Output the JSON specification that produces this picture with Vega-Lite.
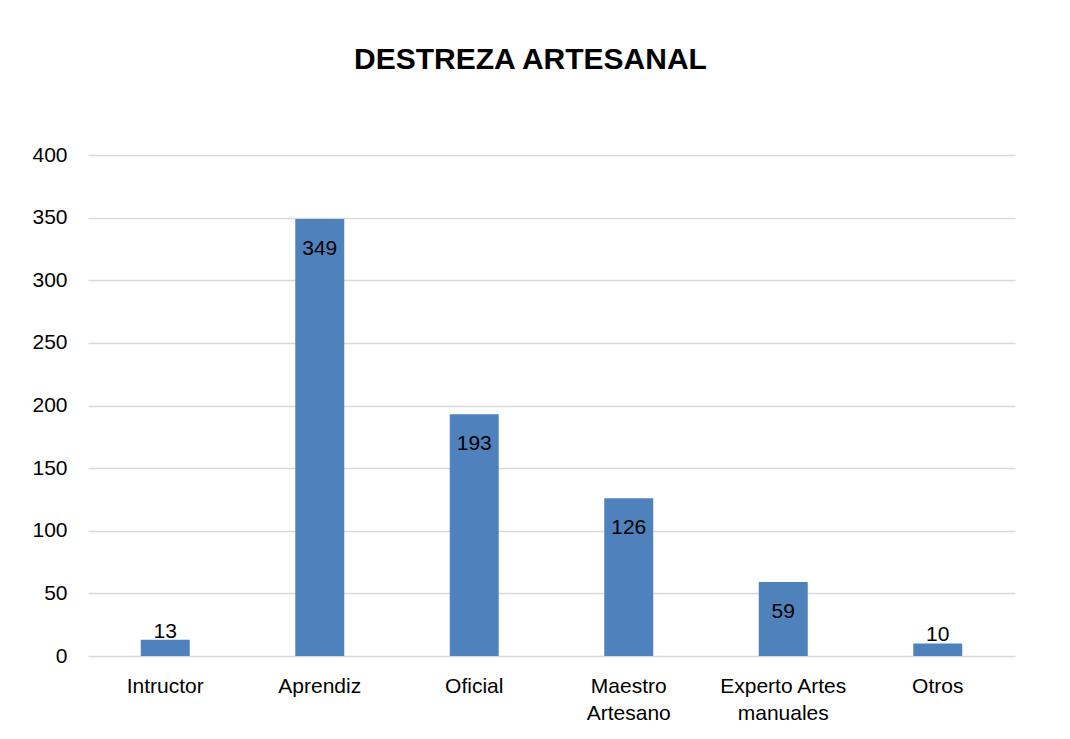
{
  "$schema": "https://vega.github.io/schema/vega-lite/v6.json",
  "autosize": {"type": "none"},
  "width": 927,
  "height": 501,
  "padding": {"left": 88, "top": 155, "right": 55, "bottom": 83},
  "background": "white",
  "config": {
    "view": {"stroke": null},
    "font": "Liberation Sans"
  },
  "title": {
    "text": "DESTREZA ARTESANAL",
    "font": "Liberation Sans",
    "fontSize": 30,
    "fontWeight": "bold",
    "color": "#000000",
    "anchor": "middle",
    "dx": -21,
    "baseline": "alphabetic",
    "offset": 45
  },
  "data": {
    "values": [
      {"categoria": "Intructor", "valor": 13},
      {"categoria": "Aprendiz", "valor": 349},
      {"categoria": "Oficial", "valor": 193},
      {"categoria": "Maestro Artesano", "valor": 126},
      {"categoria": "Experto Artes manuales", "valor": 59},
      {"categoria": "Otros", "valor": 10}
    ]
  },
  "encoding": {
    "x": {
      "field": "categoria",
      "type": "nominal",
      "sort": null,
      "scale": {"paddingInner": 0.683, "paddingOuter": 0.3415},
      "axis": {
        "title": null,
        "labelAngle": 0,
        "domain": false,
        "ticks": false,
        "labelFont": "Liberation Sans",
        "labelFontSize": 21,
        "labelColor": "#000000",
        "labelPadding": 19,
        "labelLineHeight": 27,
        "labelExpr": "datum.label == 'Maestro Artesano' ? ['Maestro', 'Artesano'] : datum.label == 'Experto Artes manuales' ? ['Experto Artes', 'manuales'] : datum.label"
      }
    },
    "y": {
      "field": "valor",
      "type": "quantitative",
      "scale": {"domain": [0, 400], "nice": false},
      "axis": {
        "title": null,
        "values": [0, 50, 100, 150, 200, 250, 300, 350, 400],
        "domain": false,
        "ticks": false,
        "grid": true,
        "gridColor": "#D9D9D9",
        "gridWidth": 1.5,
        "labelFont": "Liberation Sans",
        "labelFontSize": 21,
        "labelColor": "#000000",
        "labelPadding": 21
      }
    }
  },
  "layer": [
    {
      "mark": {"type": "bar", "color": "#4F81BD"}
    },
    {
      "transform": [{"filter": "datum.valor >= 30"}],
      "mark": {
        "type": "text",
        "font": "Liberation Sans",
        "fontSize": 21,
        "color": "#000000",
        "baseline": "alphabetic",
        "dy": 36
      },
      "encoding": {"text": {"field": "valor", "type": "quantitative"}}
    },
    {
      "transform": [{"filter": "datum.valor < 30"}],
      "mark": {
        "type": "text",
        "font": "Liberation Sans",
        "fontSize": 21,
        "color": "#000000",
        "baseline": "alphabetic",
        "dy": -2
      },
      "encoding": {"text": {"field": "valor", "type": "quantitative"}}
    }
  ]
}
